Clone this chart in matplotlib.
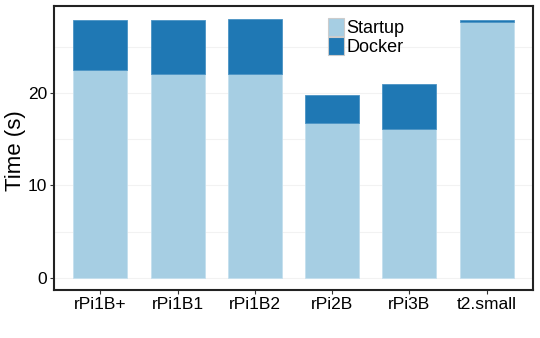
import matplotlib
matplotlib.use("Agg")
import matplotlib.pyplot as plt
import numpy as np

plt.rcParams['font.family'] = ['Liberation Sans', 'DejaVu Sans']

categories = ["rPi1B+", "rPi1B1", "rPi1B2", "rPi2B", "rPi3B", "t2.small"]
startup = [22.45, 22.0, 22.1, 16.75, 16.05, 27.65]
docker = [5.45, 5.9, 5.9, 3.05, 4.9, 0.25]
yticks = [0, 10, 20]

fig = plt.figure(figsize=(5.4, 3.38), dpi=100)
ax = fig.add_axes([54/540, 1-290/338, (533-54)/540, (290-6)/338])

x = np.arange(len(categories))
w = 0.7
ax.bar(x, startup, w, color='#a6cee3', edgecolor='#c4e0ee', linewidth=0.6, label='Startup', zorder=2)
ax.bar(x, docker, w, bottom=startup, color='#1f78b4', edgecolor='#4a93c4', linewidth=0.6, label='Docker', zorder=2)

ax.set_xlim(-0.6, 5.6)
ax.set_ylim(-1.3, 29.4)
ax.set_xticks(x)
ax.set_xticklabels(categories, fontsize=12.5)
ax.set_yticks(yticks)
ax.set_yticklabels([str(v) for v in yticks], fontsize=12.5)
ax.set_yticks([5, 15, 25], minor=True)
ax.grid(True, which='both', axis='y', color='#f2f2f2', linewidth=0.8, zorder=0)
ax.tick_params(axis='both', length=3, width=0.8, color='#333333', pad=2)
ax.tick_params(axis='y', which='minor', length=0)
ax.set_ylabel("Time (s)", fontsize=16)
ax.yaxis.set_label_coords(-0.058, 0.49)
for s in ax.spines.values():
    s.set_linewidth(1.5)
    s.set_color('#222222')

leg = ax.legend(loc='upper left', bbox_to_anchor=((327-54)/479 - 0.012, 1 - 5/284), frameon=False,
                fontsize=13, handlelength=0.85, handleheight=1.15, labelspacing=0.0,
                handletextpad=0.15, borderaxespad=0)
for p in leg.get_patches():
    p.set_edgecolor('#cccccc')
    p.set_linewidth(0.8)

fig.savefig("out.png", dpi=100)
